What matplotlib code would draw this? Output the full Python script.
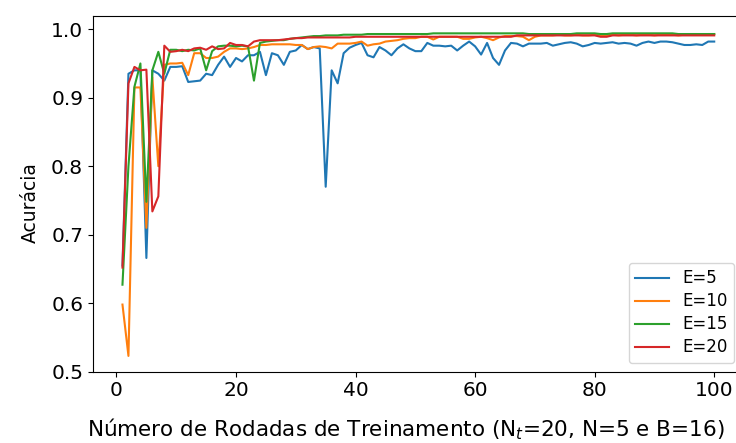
import numpy as np
import matplotlib
matplotlib.use("Agg")
import matplotlib.pyplot as plt

# rodadas de treinamento
rounds = np.arange(1, 101)

# acuracia por rodada
acc_e5 = [
    0.655, 0.935, 0.940, 0.940, 0.666, 0.940, 0.935, 0.925, 0.945, 0.945,
    0.946, 0.923, 0.924, 0.925, 0.935, 0.933, 0.948, 0.960, 0.945, 0.958,
    0.953, 0.962, 0.962, 0.967, 0.933, 0.965, 0.962, 0.948, 0.967, 0.969,
    0.977, 0.971, 0.974, 0.972, 0.770, 0.940, 0.921, 0.965, 0.973, 0.977,
    0.980, 0.962, 0.959, 0.974, 0.969, 0.962, 0.972, 0.978, 0.972, 0.968,
    0.968, 0.980, 0.976, 0.976, 0.975, 0.976, 0.969, 0.976, 0.982, 0.975,
    0.963, 0.980, 0.958, 0.948, 0.969, 0.980, 0.979, 0.975, 0.979, 0.979,
    0.979, 0.980, 0.976, 0.978, 0.980, 0.981, 0.979, 0.975, 0.977, 0.980,
    0.979, 0.980, 0.981, 0.979, 0.980, 0.979, 0.976, 0.980, 0.982, 0.980,
    0.982, 0.982, 0.981, 0.979, 0.977, 0.977, 0.978, 0.977, 0.982, 0.982,
]
acc_e10 = [
    0.598, 0.523, 0.915, 0.915, 0.710, 0.930, 0.800, 0.948, 0.950, 0.950,
    0.951, 0.933, 0.965, 0.965, 0.958, 0.958, 0.960, 0.967, 0.972, 0.972,
    0.971, 0.972, 0.974, 0.977, 0.977, 0.978, 0.978, 0.978, 0.978, 0.977,
    0.977, 0.971, 0.974, 0.975, 0.974, 0.972, 0.979, 0.979, 0.979, 0.980,
    0.982, 0.976, 0.978, 0.979, 0.982, 0.983, 0.984, 0.986, 0.987, 0.987,
    0.989, 0.989, 0.985, 0.989, 0.989, 0.989, 0.989, 0.986, 0.986, 0.988,
    0.989, 0.987, 0.984, 0.988, 0.990, 0.990, 0.990, 0.989, 0.984, 0.989,
    0.991, 0.991, 0.991, 0.992, 0.991, 0.991, 0.992, 0.991, 0.991, 0.992,
    0.991, 0.991, 0.992, 0.991, 0.992, 0.992, 0.991, 0.992, 0.992, 0.991,
    0.992, 0.992, 0.992, 0.991, 0.992, 0.993, 0.993, 0.992, 0.993, 0.993,
]
acc_e15 = [
    0.627, 0.800, 0.916, 0.950, 0.748, 0.940, 0.967, 0.935, 0.970, 0.970,
    0.968, 0.970, 0.969, 0.972, 0.940, 0.968, 0.975, 0.976, 0.976, 0.975,
    0.976, 0.975, 0.925, 0.980, 0.982, 0.983, 0.984, 0.984, 0.986, 0.987,
    0.988, 0.989, 0.990, 0.990, 0.991, 0.991, 0.991, 0.992, 0.992, 0.992,
    0.992, 0.993, 0.993, 0.993, 0.993, 0.993, 0.993, 0.993, 0.993, 0.993,
    0.993, 0.993, 0.994, 0.994, 0.994, 0.994, 0.994, 0.994, 0.994, 0.994,
    0.994, 0.994, 0.994, 0.994, 0.994, 0.994, 0.994, 0.994, 0.993, 0.993,
    0.993, 0.993, 0.993, 0.993, 0.993, 0.993, 0.994, 0.994, 0.994, 0.994,
    0.993, 0.993, 0.994, 0.994, 0.994, 0.994, 0.994, 0.994, 0.994, 0.994,
    0.994, 0.994, 0.994, 0.993, 0.993, 0.993, 0.993, 0.993, 0.993, 0.993,
]
acc_e20 = [
    0.652, 0.921, 0.945, 0.940, 0.941, 0.734, 0.756, 0.976, 0.967, 0.968,
    0.970, 0.968, 0.972, 0.973, 0.970, 0.975, 0.971, 0.972, 0.980, 0.977,
    0.977, 0.975, 0.982, 0.984, 0.984, 0.984, 0.984, 0.985, 0.986, 0.987,
    0.987, 0.988, 0.988, 0.988, 0.988, 0.988, 0.988, 0.988, 0.988, 0.989,
    0.989, 0.989, 0.989, 0.989, 0.989, 0.989, 0.989, 0.989, 0.989, 0.989,
    0.989, 0.989, 0.989, 0.989, 0.989, 0.989, 0.989, 0.989, 0.989, 0.989,
    0.989, 0.989, 0.989, 0.989, 0.989, 0.989, 0.991, 0.991, 0.991, 0.991,
    0.991, 0.991, 0.991, 0.991, 0.991, 0.991, 0.991, 0.991, 0.991, 0.991,
    0.989, 0.989, 0.991, 0.991, 0.991, 0.991, 0.991, 0.991, 0.991, 0.991,
    0.991, 0.991, 0.991, 0.991, 0.991, 0.991, 0.991, 0.991, 0.991, 0.991,
]
labels = ["E=5", "E=10", "E=15", "E=20"]

fig = plt.figure(figsize=(7.36, 4.43), dpi=100)
ax = fig.add_axes([0.1262, 0.161, 0.8844, 0.803])

for acc, lab in zip([acc_e5, acc_e10, acc_e15, acc_e20], labels):
    ax.plot(rounds, acc, label=lab, lw=1.5)

ax.set_ylim(0.5, 1.0194)
ax.set_yticks([0.5, 0.6, 0.7, 0.8, 0.9, 1.0])
ax.set_xticks([0, 20, 40, 60, 80, 100])
ax.tick_params(labelsize=14.5)
ax.set_ylabel("Acurácia", fontsize=13.5)
ax.set_xlabel("Número de Rodadas de Treinamento (N$_t$=20, N=5 e B=16)", fontsize=15.5)
ax.xaxis.set_label_coords(0.481, -0.127)
ax.yaxis.set_label_coords(-0.081, 0.475)

ax.legend(loc="lower right", bbox_to_anchor=(734 / 736, 80 / 443),
          bbox_transform=fig.transFigure, borderaxespad=0, fontsize=12,
          labelspacing=0.3)

fig.savefig("out.png", dpi=100)
